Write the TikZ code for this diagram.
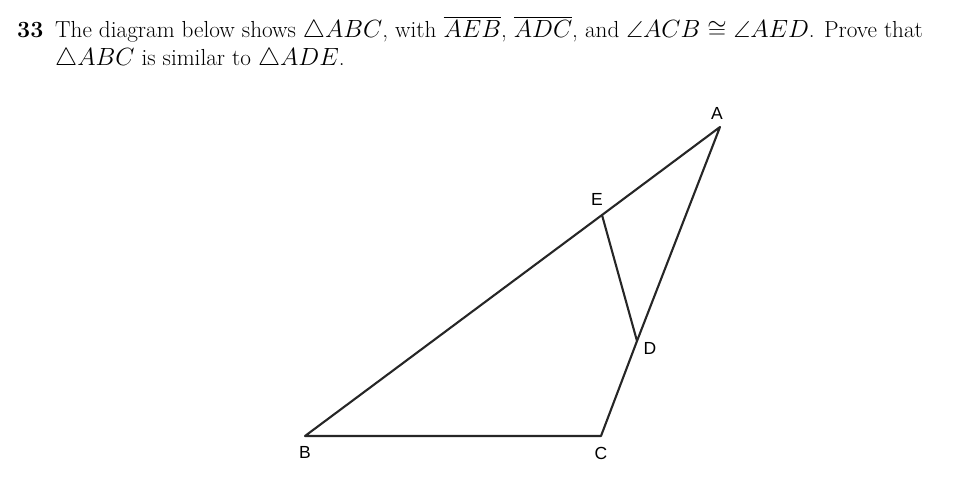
\documentclass[tikz,border=0pt]{standalone}
\usepackage{amssymb}
\usepackage{fontspec}
\newfontfamily\labelfont{Liberation Sans}
\begin{document}
\begin{tikzpicture}[x=1pt,y=-1pt,
  txt/.style={anchor=base west,inner sep=0pt,font=\fontsize{23.2}{28}\selectfont},
  lbl/.style={inner sep=0pt,font=\labelfont\fontsize{17.5}{20}\selectfont},
  seg/.style={line width=2.1pt,line cap=round,line join=round,color=black!85}]
\useasboundingbox (0,0) rectangle (953,495);
\node[txt] (num) at (17,38) {\textbf{33}};
\node[txt] (l1) at (55,38) {The diagram below shows $\triangle ABC$, with $\overline{AEB}$, $\overline{ADC}$, and $\angle ACB \cong \angle AED$. Prove that};
\node[txt] (l2) at (55,66) {$\triangle ABC$ is similar to $\triangle ADE$.};
\coordinate (A) at (720,127);
\coordinate (E) at (602,215);
\coordinate (D) at (637,341);
\coordinate (C) at (601,436);
\coordinate (B) at (305,436);
\draw[seg] (A) -- (E) -- (B) -- (C) -- (D) -- (A);
\draw[seg] (E) -- (D);
\node[lbl] (la) at (717,113) {A};
\node[lbl] (le) at (597,199) {E};
\node[lbl] (ld) at (650,348) {D};
\node[lbl] (lc) at (601,453) {C};
\node[lbl] (lb) at (305,452) {B};
\end{tikzpicture}
\end{document}
